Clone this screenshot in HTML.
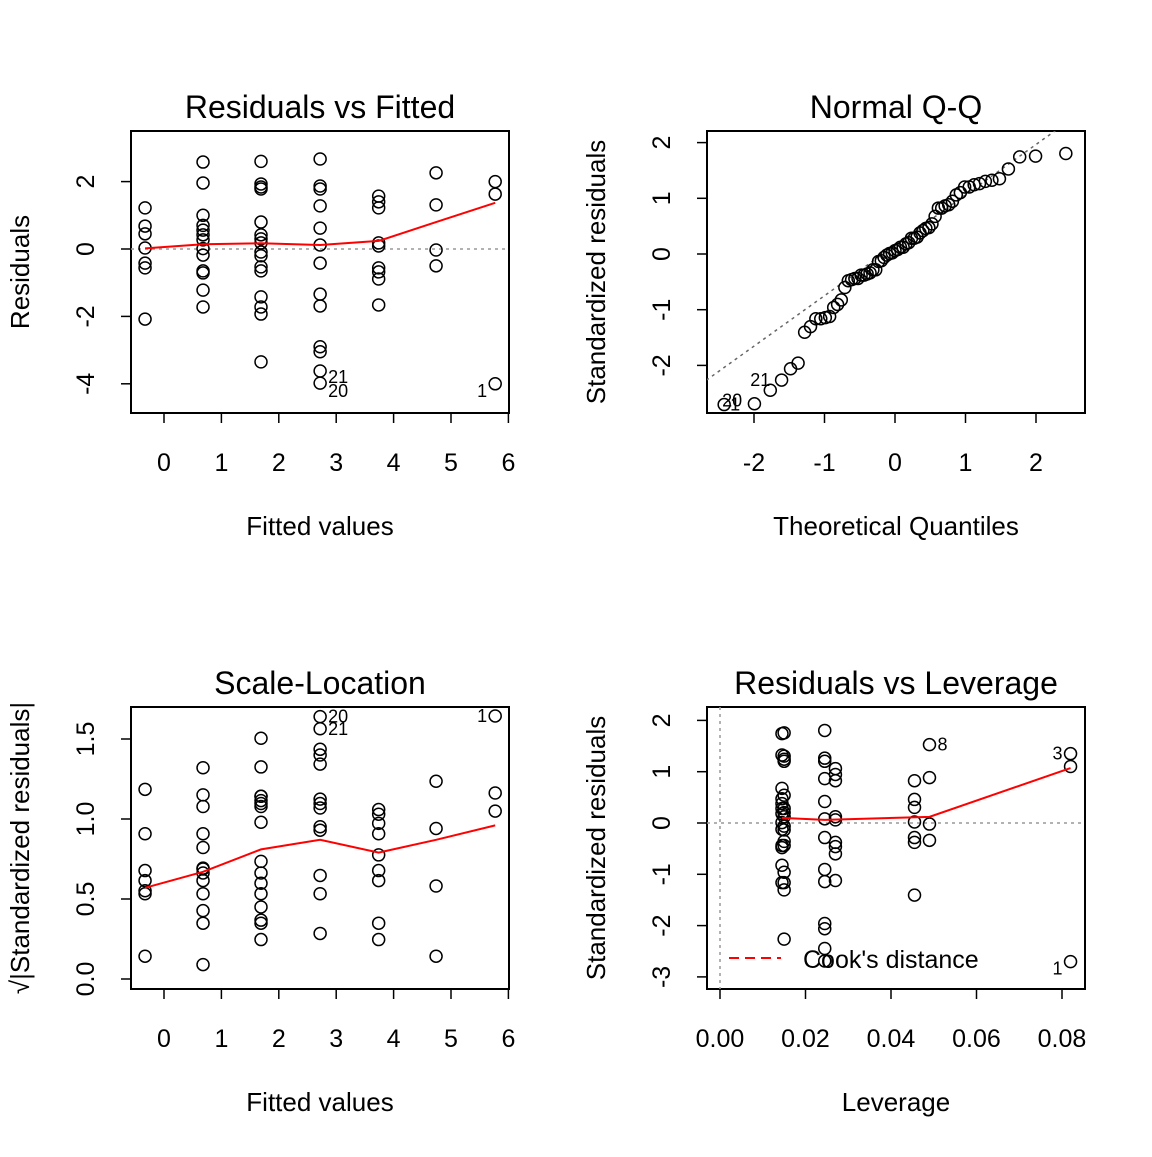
<!DOCTYPE html>
<html><head><meta charset="utf-8"><style>
html,body{margin:0;padding:0;background:#fff;}
svg text{font-family:"Liberation Sans",Arial,sans-serif;fill:#000;}
</style></head><body>
<svg id="c" width="1152" height="1152" viewBox="0 0 1152 1152" xmlns="http://www.w3.org/2000/svg"></svg>
<script>
// ---- data ----
const groupFitted = [-0.33, 0.68, 1.69, 2.72, 3.74, 4.74, 5.77];
const groupLeverage = [0.0455, 0.0145, 0.0150, 0.0245, 0.0270, 0.049, 0.082];
const resid0 = [1.22, 0.68, 0.45, 0.03, -0.42, -0.56, -2.08];
const resid1 = [2.58, 1.96, 1.0, 0.7, 0.56, 0.42, 0.27, 0.012, -0.18, -0.65, -0.71, -1.22, -1.72];
const resid2 = [2.6, 1.93, 1.84, 1.78, 0.8, 0.42, 0.3, 0.18, -0.09, -0.2, -0.53, -0.65, -1.42, -1.72, -1.93, -3.35];
const resid3 = [2.67, 1.87, 1.78, 1.28, 0.62, 0.12, -0.42, -1.34, -1.69, -2.9, -3.05, -3.62, -3.98];
const resid4 = [1.57, 1.4, 1.22, 0.18, 0.09, -0.56, -0.68, -0.89, -1.66];
const resid5 = [2.26, 1.31, -0.03, -0.5];
const resid6 = [2.0, 1.63, -4.0];
const residScale = 1.48;
const smooth1 = [0.02, 0.14, 0.17, 0.12, 0.24, 0.8, 1.37];
const smooth3 = [0.57, 0.67, 0.81, 0.87, 0.79, 0.87, 0.96];
const smooth4x = [0.0145, 0.0245, 0.049, 0.082];
const smooth4y = [0.1, 0.06, 0.12, 1.07];
const qqSlope = 0.905, qqIntercept = 0.156;
const xTicks1 = [0,1,2,3,4,5,6];
const yTicks1 = [2,0,-2,-4];
const xTicks2 = [-2,-1,0,1,2];
const yTicks2 = [2,1,0,-1,-2];
const yTicks3 = ["0.0","0.5","1.0","1.5"];
const xTicks4 = ["0.00","0.02","0.04","0.06","0.08"];
const yTicks4 = [2,1,0,-1,-2,-3];

const groups=[resid0,resid1,resid2,resid3,resid4,resid5,resid6];
const svg=document.getElementById('c');
const NS='http://www.w3.org/2000/svg';
function mk(tag,attrs,parent){const e=document.createElementNS(NS,tag);for(const k in attrs)e.setAttribute(k,attrs[k]);(parent||svg).appendChild(e);return e;}
function txt(s,x,y,size,opts){const e=mk('text',Object.assign({x:x,y:y,'font-size':size,'text-anchor':'middle'},opts||{}));e.textContent=s;return e;}

function panel(name,box,title,xlab,ylab,xf,yf,xt,yt){
  const g=mk('g',{});
  
  
  const r=mk('rect',{x:box[0],y:box[1],width:box[2]-box[0],height:box[3]-box[1],fill:'none',stroke:'#000','stroke-width':2},g);
  
  const t=txt(title,(box[0]+box[2])/2,box[1]-13,32);g.appendChild(t);
  
  const xl=txt(xlab,(box[0]+box[2])/2,box[3]+122,26);g.appendChild(xl);
  
  const cx=box[0]-111, cy=(box[1]+box[3])/2;
  const yl=txt(ylab,cx,cy+9,26,{transform:`rotate(-90 ${cx} ${cy})`});g.appendChild(yl);
  
  xt.forEach(v=>{const px=xf(parseFloat(v));
    mk('line',{x1:px,x2:px,y1:box[3],y2:box[3]+10,stroke:'#000','stroke-width':1.5},g);
    const l=txt(String(v),px,box[3]+58,25);g.appendChild(l);
    });
  yt.forEach(v=>{const py=yf(parseFloat(v));
    mk('line',{x1:box[0]-10,x2:box[0],y1:py,y2:py,stroke:'#000','stroke-width':1.5},g);
    const lx=box[0]-46;
    const l=txt(String(v),lx,py+9,25,{transform:`rotate(-90 ${lx} ${py})`});g.appendChild(l);
    });
  return g;
}
function pt(g,x,y){const c=mk('circle',{cx:x,cy:y,r:6,fill:'none',stroke:'#000','stroke-width':1.5},g);
  }
function lbl(g,s,x,y,anchor){const l=txt(s,x,y,18,{'text-anchor':anchor||'start'});g.appendChild(l);
  }
function redLine(g,pts,dash){const p=mk('polyline',{points:pts.map(p=>p.join(',')).join(' '),fill:'none',stroke:'#ff0000','stroke-width':2},g);
  if(dash)p.setAttribute('stroke-dasharray',dash);
  }

// Panel 1
const x1=v=>164+57.4*v, y1=v=>249-33.7*v;
const g1=panel('residuals-vs-fitted-panel',[131,131,509,413],'Residuals vs Fitted','Fitted values','Residuals',x1,y1,xTicks1,yTicks1);
const z1=mk('line',{x1:131,x2:509,y1:y1(0),y2:y1(0),stroke:'#999','stroke-width':1.5,'stroke-dasharray':'3,4'},g1);

groups.forEach((arr,i)=>arr.forEach(r=>pt(g1,x1(groupFitted[i]),y1(r))));
redLine(g1,groupFitted.map((f,i)=>[x1(f),y1(smooth1[i])]));
lbl(g1,'21',x1(groupFitted[3])+8,y1(resid3[11])+12);
lbl(g1,'20',x1(groupFitted[3])+8,y1(resid3[12])+14);
lbl(g1,'1',x1(groupFitted[6])-8,y1(resid6[2])+13,'end');

// Panel 2 QQ
const x2=v=>895+70.5*v, y2=v=>254-55.7*v;
const g2=panel('normal-qq-panel',[707,131,1085,413],'Normal Q-Q','Theoretical Quantiles','Standardized residuals',x2,y2,xTicks2,yTicks2);
const all=[];groups.forEach(a=>a.forEach(r=>all.push(r/residScale)));
all.sort((a,b)=>a-b);
function qnorm(p){
 const a=[-39.6968302866538,220.946098424521,-275.928510446969,138.357751867269,-30.6647980661472,2.50662827745924],
 b=[-54.4760987982241,161.585836858041,-155.698979859887,66.8013118877197,-13.2806815528857],
 c=[-0.00778489400243029,-0.322396458041136,-2.40075827716184,-2.54973253934373,4.37466414146497,2.93816398269878],
 d=[0.00778469570904146,0.32246712907004,2.445134137143,3.75440866190742];
 if(p<0.02425){const q=Math.sqrt(-2*Math.log(p));return (((((c[0]*q+c[1])*q+c[2])*q+c[3])*q+c[4])*q+c[5])/((((d[0]*q+d[1])*q+d[2])*q+d[3])*q+1);}
 if(p>1-0.02425){const q=Math.sqrt(-2*Math.log(1-p));return -(((((c[0]*q+c[1])*q+c[2])*q+c[3])*q+c[4])*q+c[5])/((((d[0]*q+d[1])*q+d[2])*q+d[3])*q+1);}
 const q=p-0.5,r=q*q;return (((((a[0]*r+a[1])*r+a[2])*r+a[3])*r+a[4])*r+a[5])*q/(((((b[0]*r+b[1])*r+b[2])*r+b[3])*r+b[4])*r+1);}
const n=all.length;
const cp=mk('clipPath',{id:'clip2'});mk('rect',{x:707,y:131,width:378,height:282},cp);
const ql=mk('line',{x1:x2(-3),x2:x2(3),y1:y2(qqIntercept-3*qqSlope),y2:y2(qqIntercept+3*qqSlope),stroke:'#666','stroke-width':1.5,'stroke-dasharray':'3,4','clip-path':'url(#clip2)'},g2);

const tq=all.map((v,i)=>qnorm((i+1-0.5)/n));
all.forEach((v,i)=>pt(g2,x2(tq[i]),y2(v)));
lbl(g2,'21',x2(tq[2])-20,y2(all[2])-4);
lbl(g2,'20',x2(tq[0])-2,y2(all[0])+2);
lbl(g2,'1',x2(tq[0])+6,y2(all[0])+6);

// Panel 3
const y3=v=>979-160*v;
const g3=panel('scale-location-panel',[131,707,509,989],'Scale-Location','Fitted values','\u221A|Standardized residuals|',x1,y3,xTicks1,yTicks3);
groups.forEach((arr,i)=>arr.forEach(r=>pt(g3,x1(groupFitted[i]),y3(Math.sqrt(Math.abs(r)/residScale)))));
redLine(g3,groupFitted.map((f,i)=>[x1(f),y3(smooth3[i])]));
lbl(g3,'20',x1(groupFitted[3])+8,y3(Math.sqrt(Math.abs(resid3[12])/residScale))+6);
lbl(g3,'21',x1(groupFitted[3])+8,y3(Math.sqrt(Math.abs(resid3[11])/residScale))+6);
lbl(g3,'1',x1(groupFitted[6])-8,y3(Math.sqrt(Math.abs(resid6[2])/residScale))+6,'end');

// Panel 4
const x4=v=>720+4275*v, y4=v=>823-51.3*v;
const g4=panel('residuals-vs-leverage-panel',[707,707,1085,989],'Residuals vs Leverage','Leverage','Standardized residuals',x4,y4,xTicks4,yTicks4);
const h4=mk('line',{x1:707,x2:1085,y1:y4(0),y2:y4(0),stroke:'#999','stroke-width':1.5,'stroke-dasharray':'3,4'},g4);

const v4=mk('line',{x1:x4(0),x2:x4(0),y1:707,y2:989,stroke:'#999','stroke-width':1.5,'stroke-dasharray':'3,4'},g4);

groups.forEach((arr,i)=>arr.forEach(r=>pt(g4,x4(groupLeverage[i]),y4(r/residScale))));
redLine(g4,smooth4x.map((v,i)=>[x4(v),y4(smooth4y[i])]));
lbl(g4,'8',x4(groupLeverage[5])+8,y4(resid5[0]/residScale)+6);
lbl(g4,'3',x4(groupLeverage[6])-8,y4(resid6[0]/residScale)+6,'end');
lbl(g4,'1',x4(groupLeverage[6])-8,y4(resid6[2]/residScale)+13,'end');
const lg=mk('g',{},g4);

mk('line',{x1:729,x2:781,y1:958,y2:958,stroke:'#ff0000','stroke-width':2,'stroke-dasharray':'10,6'},lg);
const lt=txt("Cook's distance",803,968,25,{'text-anchor':'start'});lg.appendChild(lt);
</script>
</body></html>
